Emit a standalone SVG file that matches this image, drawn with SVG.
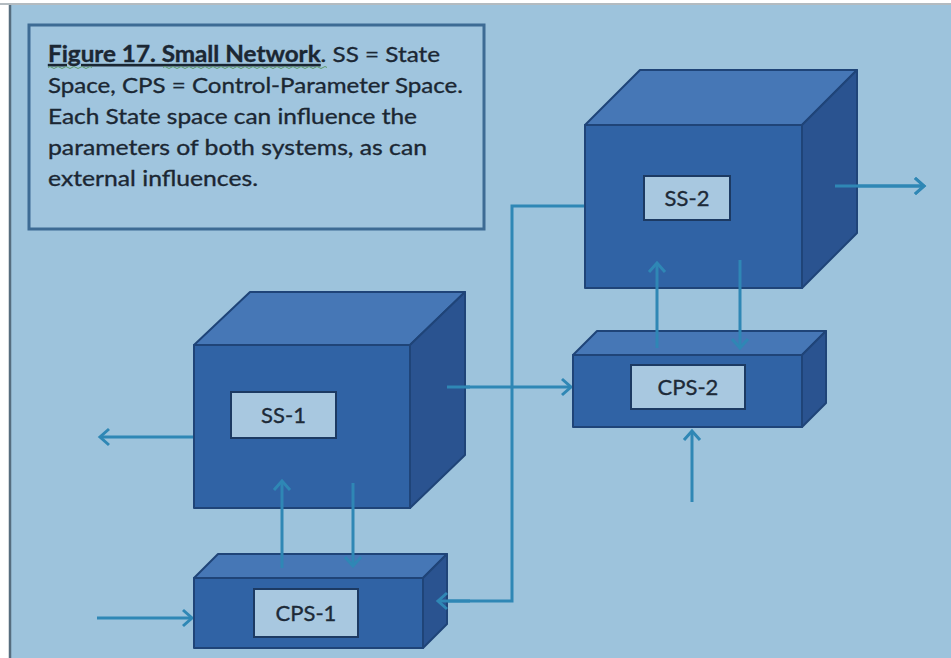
<svg xmlns="http://www.w3.org/2000/svg" width="951" height="658" viewBox="0 0 951 658">
  <defs>
    <style>
      .front { fill: #3063a5; stroke: #1f4478; stroke-width: 2; stroke-linejoin: round; }
      .top { fill: #4677b6; stroke: #1f4478; stroke-width: 2; stroke-linejoin: round; }
      .side { fill: #2a5390; stroke: #1f4478; stroke-width: 2; stroke-linejoin: round; }
      .label { fill: #a8c8e0; stroke: #1c3a63; stroke-width: 2; }
      .ltext { font-family: "Lato", "Liberation Sans", sans-serif; font-size: 22px; fill: #1d2a38; stroke: #1d2a38; stroke-width: 0.35; text-anchor: middle; }
      .cap { font-family: "Lato", "Liberation Sans", sans-serif; font-size: 22px; fill: #1b2733; stroke: #1b2733; stroke-width: 0.35; }
      .wire { fill: none; stroke: #2f87b5; stroke-width: 3; }
      .arrow { fill: none; stroke: #2f87b5; stroke-width: 3; marker-end: url(#head); }
    </style>
    <marker id="head" markerUnits="userSpaceOnUse" markerWidth="24" markerHeight="24" viewBox="-12 -12 24 24" refX="0" refY="0" orient="auto">
      <path d="M-9,-8 L0,0 L-9,8" fill="none" stroke="#2f87b5" stroke-width="3" stroke-linejoin="miter"/>
    </marker>
  </defs>

  <!-- page -->
  <rect x="0" y="0" width="951" height="658" fill="#ffffff"/>
  <rect x="10" y="5" width="941" height="653" fill="#9dc3dc"/>
  <line x1="0" y1="4" x2="951" y2="4" stroke="#9aa4ab" stroke-width="1.5"/>
  <line x1="10" y1="5" x2="10" y2="658" stroke="#566d7e" stroke-width="2.5"/>

  <!-- caption box -->
  <g id="caption">
    <rect x="29" y="25" width="455" height="204" fill="#a0c5de" stroke="#3d6b94" stroke-width="3"/>
    <text class="cap" x="48" y="62" textLength="392" lengthAdjust="spacingAndGlyphs"><tspan font-weight="bold" text-decoration="underline">Figure 17. Small Network</tspan>. SS = State</text>
    <path d="M48,67.5 q2,-2 4,0 t4,0 t4,0 t4,0 t4,0 t4,0 t4,0 t4,0 t4,0 t4,0 t4,0 M163,67.5 q2,-2 4,0 t4,0 t4,0 t4,0 t4,0 t4,0 t4,0 t4,0 t4,0 t4,0 t4,0 t4,0 t4,0 t4,0 t4,0 t4,0 t4,0 t4,0 t4,0 t4,0 t4,0 t4,0 t4,0 t4,0 t4,0 t4,0 t4,0 t4,0 t4,0 t4,0 t4,0 t4,0 t4,0 t4,0 t4,0 t4,0 t4,0 t4,0 t4,0 t4,0 t4,0" fill="none" stroke="#5f9a6a" stroke-width="1"/>
    <text class="cap" x="48" y="93" textLength="415" lengthAdjust="spacingAndGlyphs">Space, CPS = Control-Parameter Space.</text>
    <text class="cap" x="48" y="124" textLength="369" lengthAdjust="spacingAndGlyphs">Each State space can influence the</text>
    <text class="cap" x="48" y="155" textLength="379" lengthAdjust="spacingAndGlyphs">parameters of both systems, as can</text>
    <text class="cap" x="48" y="186" textLength="210" lengthAdjust="spacingAndGlyphs">external influences.</text>
  </g>

  <!-- connectors -->
  <g id="connectors">
    <!-- SS-2 to CPS-1 routed line -->
    <path class="arrow" d="M585,206 L512,206 L512,601 L438,601"/>
    <!-- SS-1 outward -->
    <line class="arrow" x1="194" y1="437" x2="100" y2="437"/>
    <!-- external into CPS-1 -->
    <line class="arrow" x1="97" y1="618" x2="192" y2="618"/>
    <!-- SS-1 to CPS-2 -->
    <line class="arrow" x1="447" y1="387" x2="571" y2="387"/>
    <!-- SS-2 outward -->
    <line class="arrow" x1="835" y1="186" x2="924" y2="186"/>
    <!-- external into CPS-2 -->
    <line class="arrow" x1="692" y1="502" x2="692" y2="431"/>
  </g>

  <!-- SS-1 -->
  <g id="ss1">
    <polygon class="top" points="194,345 250,292 465,292 410,345"/>
    <polygon class="side" points="410,345 465,292 465,455 410,508"/>
    <rect class="front" x="194" y="345" width="216" height="163"/>
    <rect class="label" x="231" y="392" width="105" height="46"/>
    <text class="ltext" x="283.5" y="423">SS-1</text>
  </g>

  <!-- CPS-1 -->
  <g id="cps1">
    <polygon class="top" points="194,578 218,554 447,554 423,578"/>
    <polygon class="side" points="423,578 447,554 447,624 423,648"/>
    <rect class="front" x="194" y="578" width="229" height="70"/>
    <rect class="label" x="254" y="589" width="104" height="48"/>
    <text class="ltext" x="306" y="621">CPS-1</text>
  </g>

  <!-- SS-2 -->
  <g id="ss2">
    <polygon class="top" points="585,125 640,70 857,70 802,125"/>
    <polygon class="side" points="802,125 857,70 857,233 802,288"/>
    <rect class="front" x="585" y="125" width="217" height="163"/>
    <rect class="label" x="644" y="176" width="86" height="44"/>
    <text class="ltext" x="687" y="206">SS-2</text>
  </g>

  <!-- CPS-2 -->
  <g id="cps2">
    <polygon class="top" points="573,355 597,331 826,331 802,355"/>
    <polygon class="side" points="802,355 826,331 826,403 802,427"/>
    <rect class="front" x="573" y="355" width="229" height="72"/>
    <rect class="label" x="631" y="365" width="114" height="44"/>
    <text class="ltext" x="688" y="395">CPS-2</text>
  </g>

  <!-- state/parameter exchange arrows drawn over the boxes -->
  <g id="exchange">
    <line class="arrow" x1="282" y1="568" x2="282" y2="481"/>
    <line class="arrow" x1="353" y1="483" x2="353" y2="566"/>
    <line class="arrow" x1="657" y1="348" x2="657" y2="263"/>
    <line class="arrow" x1="740" y1="260" x2="740" y2="348"/>
    <line class="arrow" x1="835" y1="186" x2="924" y2="186"/>
    <line class="wire" x1="447" y1="387" x2="470" y2="387"/>
    <line class="arrow" x1="470" y1="601" x2="438" y2="601"/>
  </g>
</svg>
